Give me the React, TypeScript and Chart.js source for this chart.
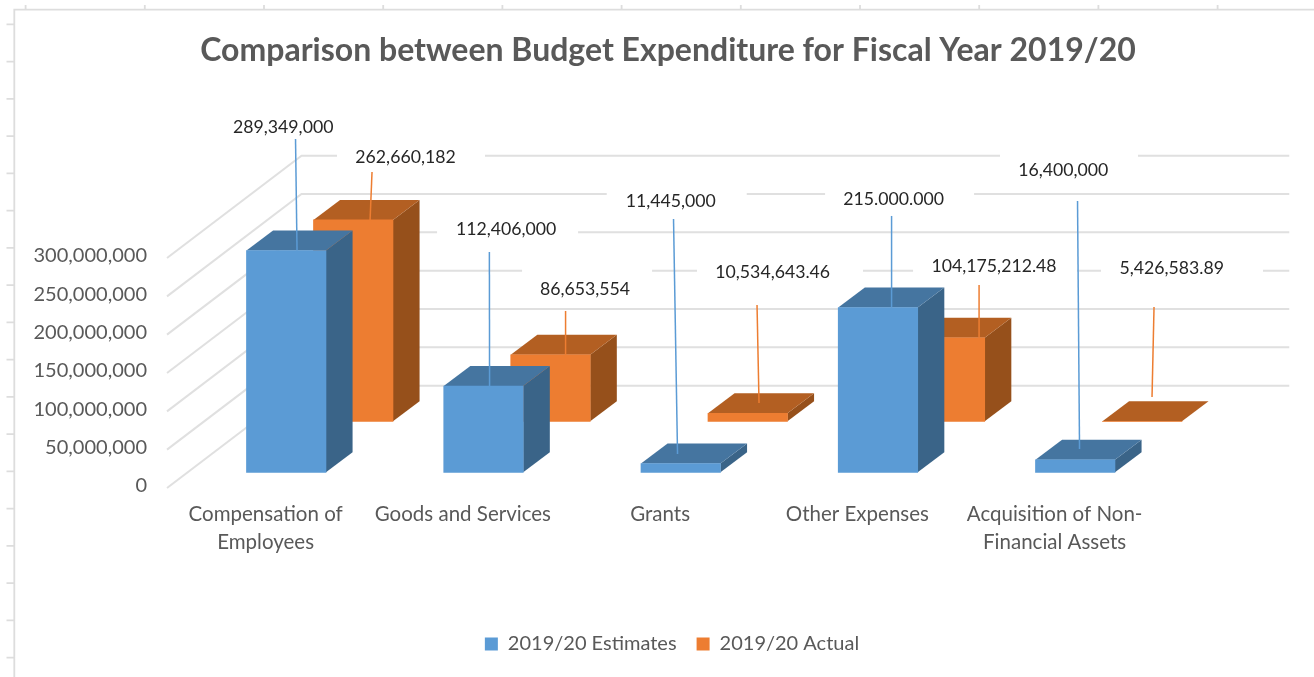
import React, { useEffect, useRef } from "react";
import { Chart, registerables } from "chart.js";

Chart.register(...registerables);

const categories = [
  ["Compensation of", "Employees"],
  "Goods and Services",
  "Grants",
  "Other Expenses",
  ["Acquisition of Non-", "Financial Assets"],
];
const seriesNames = ["2019/20 Estimates", "2019/20 Actual"];
const estimates = [289349000, 112406000, 11445000, 215000000, 16400000];
const actuals = [262660182, 86653554, 10534643.46, 109000000, 0];
// Data labels exactly as they are printed
const estimateLabels = ["289,349,000", "112,406,000", "11,445,000", "215.000.000", "16,400,000"];
const actualLabels = ["262,660,182", "86,653,554", "10,534,643.46", "104,175,212.48", "5,426,583.89"];

const FONT = "Lato, Carlito, Calibri, sans-serif";
const SERIES_STYLE = [
  { front: "#5B9BD5", top: "#4575A0", side: "#3A6488", shift: [20.6, -15.7] },
  { front: "#ED7D31", top: "#B35F22", side: "#96501B", shift: [87.6, -66.7] },
];
const DEPTH = [26.6, -20];
const WALL = [134.5, -102.3];
const GRID = "#E0E0E0";

// Manual label placement relative to each bar's top-front centre:
// t = text, a/b = leader ends, g = [gridline-gap shift from text, gap width]
const PLACEMENT = [
  [
    { t: [-3, -123.5], a: [9.3, -111.5], b: [10.8, 0], g: [0, 0] },
    { t: [22.6, -157.1], a: [5.9, -134.1], b: [6.1, 0], g: [1.5, 141] },
    { t: [-10, -262.5], a: [-7.2, -244.5], b: [-3.2, -9.5], g: [6, 140] },
    { t: [15.6, -108.5], a: [13.6, -91.5], b: [13.6, 0], g: [6, 149] },
    { t: [-11.9, -289.7], a: [2.3, -258.7], b: [4.3, -10.7], g: [5.7, 138] },
  ],
  [
    { t: [52.3, -62.9], a: [18.8, -47.9], b: [16.8, 1], g: [5.5, 148] },
    { t: [34.6, -65.9], a: [15.1, -43.9], b: [15.1, 0], g: [2, 130] },
    { t: [25, -141.2], a: [9.3, -108.2], b: [11.3, -10.2], g: [7.3, 166] },
    { t: [49.1, -71], a: [34.1, -52.7], b: [34.1, 0], g: [1, 164] },
    { t: [29.5, -153.3], a: [11.8, -114.3], b: [9.8, -24.3], g: [10.3, 162] },
  ],
];
const printed = [estimateLabels, actualLabels];

const sheetFrame = {
  id: "sheetFrame",
  afterLayout(chart: any) {
    chart.legend.left += 4;
    chart.legend.right += 4;
  },
  beforeDraw(chart: any) {
    const { ctx, width, height } = chart;
    ctx.save();
    ctx.fillStyle = "#FFFFFF";
    ctx.fillRect(0, 0, width, height);
    ctx.strokeStyle = "#DDDDDD";
    ctx.lineWidth = 1.8;
    ctx.beginPath();
    ctx.moveTo(width, 9.7);
    ctx.lineTo(14.3, 9.7);
    ctx.lineTo(14.3, height);
    for (let x = 25.6; x < width; x += 119.2) {
      ctx.moveTo(x, 5);
      ctx.lineTo(x, 9.7);
    }
    for (let y = 24.3; y < height; y += 37.25) {
      ctx.moveTo(6.5, y);
      ctx.lineTo(14.3, y);
    }
    ctx.stroke();
    ctx.restore();
  },
};

const wallAndGaps = {
  id: "wallAndGaps",
  beforeDatasetsDraw(chart: any) {
    const { ctx, scales } = chart;
    const { x: xs, y: ys } = scales;
    ctx.save();
    ctx.strokeStyle = GRID;
    ctx.lineWidth = 2;
    ys.ticks.forEach((_: any, i: number) => {
      const p = ys.getPixelForTick(i);
      ctx.beginPath();
      ctx.moveTo(xs.left, p);
      ctx.lineTo(xs.left + WALL[0], p + WALL[1]);
      ctx.lineTo(xs.right + WALL[0] + 1.5, p + WALL[1]);
      ctx.stroke();
    });
    // Opaque label boxes interrupt the wall lines
    ctx.fillStyle = "#FFFFFF";
    PLACEMENT.forEach((row, ds) => {
      const meta = chart.getDatasetMeta(ds);
      const [sx, sy] = SERIES_STYLE[ds].shift;
      row.forEach((pl, i) => {
        if (!pl.g[1]) return;
        const el = meta.data[i];
        const cx = el.x + sx + pl.t[0] + pl.g[0];
        const cy = el.y + sy + pl.t[1];
        ctx.fillRect(cx - pl.g[1] / 2, cy - 21.5, pl.g[1], 38);
      });
    });
    ctx.restore();
  },
};

const extrude = {
  id: "extrude",
  beforeDatasetDraw(chart: any, args: any) {
    const { ctx } = chart;
    const style = SERIES_STYLE[args.index];
    ctx.save();
    ctx.translate(style.shift[0], style.shift[1]);
    args.meta.data.forEach((el: any) => {
      const l = el.x - el.width / 2;
      const r = el.x + el.width / 2;
      const t = el.y;
      const b = el.base;
      ctx.fillStyle = style.side;
      ctx.beginPath();
      ctx.moveTo(r, t);
      ctx.lineTo(r + DEPTH[0], t + DEPTH[1]);
      ctx.lineTo(r + DEPTH[0], b + DEPTH[1]);
      ctx.lineTo(r, b);
      ctx.closePath();
      ctx.fill();
      ctx.fillStyle = style.top;
      ctx.beginPath();
      ctx.moveTo(l, t);
      ctx.lineTo(l + DEPTH[0], t + DEPTH[1]);
      ctx.lineTo(r + DEPTH[0], t + DEPTH[1]);
      ctx.lineTo(r, t);
      ctx.closePath();
      ctx.fill();
    });
  },
  afterDatasetDraw(chart: any) {
    chart.ctx.restore();
  },
};

const leaderLabels = {
  id: "leaderLabels",
  afterDatasetsDraw(chart: any) {
    const { ctx } = chart;
    ctx.save();
    ctx.textAlign = "center";
    ctx.textBaseline = "middle";
    ctx.font = `17.7px ${FONT}`;
    PLACEMENT.forEach((row, ds) => {
      const meta = chart.getDatasetMeta(ds);
      const style = SERIES_STYLE[ds];
      row.forEach((pl, i) => {
        const el = meta.data[i];
        const x0 = el.x + style.shift[0];
        const y0 = el.y + style.shift[1];
        ctx.strokeStyle = style.front;
        ctx.lineWidth = 1.5;
        ctx.beginPath();
        ctx.moveTo(x0 + pl.a[0], y0 + pl.a[1]);
        ctx.lineTo(x0 + pl.b[0], y0 + pl.b[1]);
        ctx.stroke();
        ctx.fillStyle = "#262626";
        ctx.fillText(printed[ds][i], x0 + pl.t[0], y0 + pl.t[1]);
      });
    });
    ctx.restore();
  },
};

export default function App() {
  const ref = useRef<HTMLCanvasElement>(null);
  useEffect(() => {
    document.body.style.margin = "0";
    document.body.style.background = "#FFFFFF";
    const chart = new Chart(ref.current as HTMLCanvasElement, {
      type: "bar",
      data: {
        labels: categories as any,
        datasets: [
          { label: seriesNames[0], data: estimates, backgroundColor: SERIES_STYLE[0].front },
          { label: seriesNames[1], data: actuals, backgroundColor: SERIES_STYLE[1].front },
        ],
      },
      plugins: [sheetFrame, wallAndGaps, extrude, leaderLabels],
      options: {
        responsive: false,
        animation: false,
        devicePixelRatio: 1,
        layout: { padding: { left: 22, right: 0, top: 0, bottom: 13 } },
        datasets: { bar: { grouped: false, barThickness: 79.5, borderWidth: 0, clip: false } as any },
        plugins: {
          title: {
            display: true,
            text: "Comparison between Budget Expenditure for Fiscal Year 2019/20",
            color: "#595959",
            font: { family: FONT, size: 32, weight: "bold", lineHeight: 1.2 },
            padding: { top: 31, bottom: 188.6 },
          },
          legend: {
            position: "bottom",
            labels: {
              color: "#595959",
              font: { family: FONT, size: 20 },
              boxWidth: 13,
              boxHeight: 13,
              padding: 20,
            },
          },
          tooltip: { enabled: false },
        },
        scales: {
          x: {
            grid: { display: false, drawTicks: false },
            border: { display: false },
            ticks: {
              color: "#595959",
              font: { family: FONT, size: 20.5, lineHeight: 1.39 },
              padding: 12,
              maxRotation: 0,
              autoSkip: false,
            },
            afterFit: (s: any) => {
              s.height = 126;
            },
          },
          y: {
            min: 0,
            max: 300000000,
            grid: { display: false, drawTicks: false },
            border: { display: false },
            ticks: {
              stepSize: 50000000,
              color: "#595959",
              font: { family: FONT, size: 20 },
              padding: 20,
              labelOffset: -2,
            },
            afterFit: (s: any) => {
              s.width = 145;
            },
          },
          spacer: {
            position: "right",
            grid: { display: false, drawTicks: false },
            border: { display: false },
            ticks: { display: false },
            afterFit: (s: any) => {
              s.width = 160.75;
            },
          },
        },
      } as any,
    });
    return () => chart.destroy();
  }, []);
  return (
    <div style={{ width: 1314, height: 677, overflow: "hidden", background: "#FFFFFF" }}>
      <canvas
        ref={ref}
        width={1314}
        height={677}
        style={{ display: "block", width: 1314, height: 677, filter: "blur(0.45px)" }}
      />
    </div>
  );
}
